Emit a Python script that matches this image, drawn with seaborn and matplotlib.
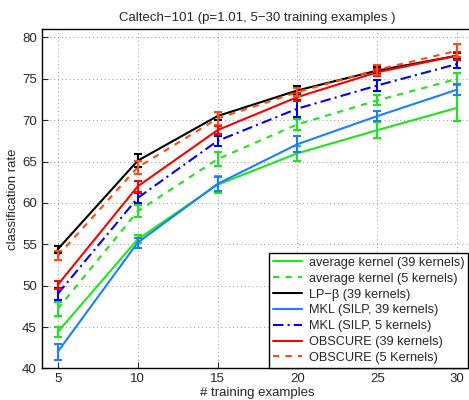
"""Caltech-101 classification rate vs number of training examples."""
import matplotlib
matplotlib.use("Agg")
import matplotlib.pyplot as plt
import numpy as np
import pandas as pd
import seaborn as sns

n_train = [5, 10, 15, 20, 25, 30]

labels = [
    "average kernel (39 kernels)",
    "average kernel (5 kernels)",
    "LP\u2212\u03b2 (39 kernels)",
    "MKL (SILP, 39 kernels)",
    "MKL (SILP, 5 kernels)",
    "OBSCURE (39 kernels)",
    "OBSCURE (5 Kernels)",
]

avg39 = [44.4, 55.6, 62.2, 66.0, 68.8, 71.5]
avg39_err = [0.55, 0.5, 1.0, 0.9, 1.0, 1.6]
avg5 = [47.2, 59.0, 65.3, 69.5, 72.4, 75.0]
avg5_err = [0.85, 0.7, 0.8, 0.7, 0.6, 0.7]
lpb39 = [54.4, 65.1, 70.5, 73.6, 76.0, 77.8]
lpb39_err = [0.4, 0.8, 0.5, 0.5, 0.4, 0.3]
mkl39 = [42.0, 55.2, 62.3, 67.1, 70.5, 73.7]
mkl39_err = [1.0, 0.6, 0.8, 0.95, 0.65, 0.7]
mkl5 = [49.0, 60.6, 67.5, 71.4, 74.2, 76.8]
mkl5_err = [0.75, 0.55, 0.65, 1.0, 0.65, 0.5]
obs39 = [50.1, 62.0, 68.8, 72.8, 75.8, 77.8]
obs39_err = [0.5, 0.7, 0.5, 0.5, 0.4, 0.5]
obs5 = [53.6, 64.3, 70.2, 73.4, 76.1, 78.4]
obs5_err = [0.55, 0.8, 0.8, 0.5, 0.6, 0.8]

means = [avg39, avg5, lpb39, mkl39, mkl5, obs39, obs5]
errs = [avg39_err, avg5_err, lpb39_err, mkl39_err, mkl5_err, obs39_err, obs5_err]

colors = ["#1ee61e", "#1ee61e", "#000000", "#1a80ff", "#0000ff", "#ff0000", "#ff4a10"]
dashes = ["", (3, 3), "", "", (5, 2, 1, 2), "", (3, 3)]

rows = []
for lab, m in zip(labels, means):
    for x, v in zip(n_train, m):
        rows.append({"n": x, "rate": v, "method": lab})
df = pd.DataFrame(rows)

sns.set_theme(style="ticks")
plt.rcParams["font.family"] = ["Liberation Sans", "DejaVu Sans"]

fig = plt.figure(figsize=(4.69, 4.0), dpi=100)
ax = fig.add_axes([0.089, 0.079, 0.92, 0.848])

for i, (lab, m, e) in enumerate(zip(labels, means, errs)):
    ax.errorbar(n_train, m, yerr=e, fmt="none", ecolor=colors[i], elinewidth=1.5,
                capsize=2.8, capthick=1.5, zorder=2 + i)

sns.lineplot(data=df, x="n", y="rate", hue="method", style="method",
             hue_order=labels, style_order=labels,
             palette=dict(zip(labels, colors)), dashes=dict(zip(labels, dashes)),
             linewidth=1.5, ax=ax, zorder=3)

ax.set_xlim(4, 31)
ax.set_ylim(40, 81)
ax.set_xticks(n_train)
ax.set_yticks(np.arange(40, 81, 5))
ax.grid(True, linestyle=(0, (1, 3)), color="#999999", linewidth=0.7)
ax.tick_params(direction="in", labelsize=9.5, length=4, width=0.8)
for s in ax.spines.values():
    s.set_linewidth(1.0)
    s.set_color("black")
ax.set_xlabel("# training examples", fontsize=9.5, labelpad=1)
ax.set_ylabel("classification rate", fontsize=9.5, labelpad=2)
ax.set_title("Caltech\u2212101 (p=1.01, 5\u221230 training examples )", fontsize=9.5, pad=6)

leg = ax.legend(loc="lower right", fontsize=9.2, frameon=True, fancybox=False,
                edgecolor="black", handlelength=2.3, borderaxespad=0.05,
                labelspacing=0.3, borderpad=0.3, handletextpad=0.5,
                bbox_to_anchor=(0.99, 0.0))
leg.get_frame().set_linewidth(1.0)
leg.get_frame().set_alpha(1)

fig.savefig("out.png", dpi=100)
plt.close(fig)
